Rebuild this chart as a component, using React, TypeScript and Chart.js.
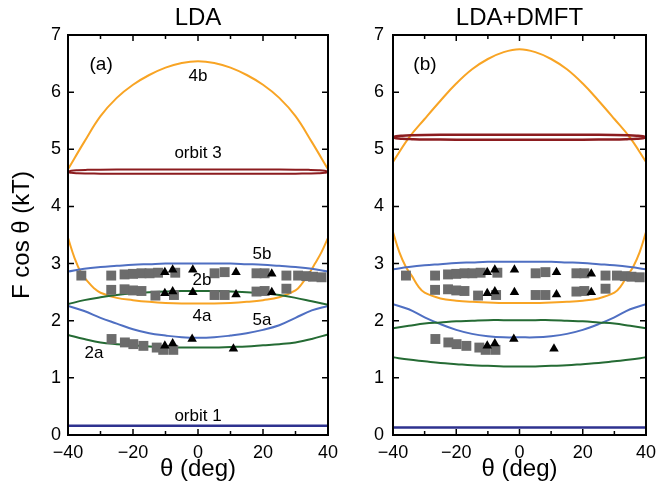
import { useEffect, useRef } from 'react';
import { Chart, registerables } from 'chart.js';

Chart.register(...registerables);

const FONT = '"Liberation Sans", Arial, Helvetica, sans-serif';

// Angle grids (deg)
const THETA = [-40, -35, -30, -25, -20, -15, -10, -5, 0, 5, 10, 15, 20, 25, 30, 35, 40];
const THETA_EDGE = [-40, -38, -36, -34, -32, -30, -25, -20, -15, -10, -5, 0, 5, 10, 15, 20, 25, 30, 32, 34, 36, 38, 40];
const THETA_ELL = [-40, -39, -37, -34, -30, -20, -10, 0, 10, 20, 30, 34, 37, 39, 40];
const THETA_FLAT = [-40, 40];

const X_MAJOR = [-40, -20, 0, 20, 40];
const X_MINOR = [-30, -10, 10, 30];
const Y_TICKS = [0, 1, 2, 3, 4, 5, 6, 7];

// LDA orbits (kT)
const lda4b = [4.65, 5.13, 5.58, 5.9, 6.13, 6.3, 6.43, 6.51, 6.54, 6.51, 6.43, 6.3, 6.13, 5.9, 5.58, 5.13, 4.65];
const lda4a = [3.45, 3.1, 2.84, 2.69, 2.57, 2.49, 2.4, 2.36, 2.33, 2.31, 2.3, 2.3, 2.3, 2.31, 2.33, 2.36, 2.41, 2.53, 2.65, 2.81, 3.0, 3.2, 3.45];
const lda5b = [2.86, 2.91, 2.94, 2.96, 2.98, 2.99, 3.0, 3.0, 3.0, 3.0, 3.0, 2.99, 2.98, 2.96, 2.94, 2.91, 2.86];
const lda5a = [2.26, 2.17, 2.05, 1.95, 1.85, 1.78, 1.74, 1.71, 1.7, 1.71, 1.74, 1.78, 1.84, 1.92, 2.05, 2.18, 2.26];
const lda2b = [2.29, 2.36, 2.41, 2.45, 2.48, 2.5, 2.51, 2.52, 2.52, 2.52, 2.51, 2.5, 2.48, 2.45, 2.4, 2.34, 2.28];
const lda2a = [1.75, 1.68, 1.62, 1.59, 1.57, 1.55, 1.54, 1.53, 1.53, 1.53, 1.54, 1.55, 1.57, 1.59, 1.62, 1.68, 1.76];
const lda3Upper = [4.605, 4.625, 4.635, 4.64, 4.643, 4.645, 4.645, 4.645, 4.645, 4.645, 4.643, 4.64, 4.635, 4.625, 4.605];
const lda3Lower = [4.605, 4.588, 4.58, 4.576, 4.573, 4.571, 4.57, 4.57, 4.57, 4.571, 4.573, 4.576, 4.58, 4.588, 4.605];
const lda1 = [0.16, 0.16];

// LDA+DMFT orbits (kT)
const dmft4b = [4.78, 5.2, 5.53, 5.85, 6.15, 6.4, 6.58, 6.7, 6.75, 6.7, 6.58, 6.4, 6.15, 5.85, 5.53, 5.2, 4.78];
const dmft4a = [3.55, 3.2, 2.95, 2.78, 2.6, 2.49, 2.39, 2.35, 2.33, 2.32, 2.31, 2.31, 2.31, 2.32, 2.33, 2.35, 2.39, 2.49, 2.6, 2.78, 2.95, 3.2, 3.55];
const dmft5b = [2.9, 2.94, 2.97, 2.99, 3.01, 3.02, 3.03, 3.03, 3.03, 3.03, 3.03, 3.02, 3.01, 2.99, 2.97, 2.94, 2.9];
const dmft5a = [2.29, 2.2, 2.06, 1.94, 1.84, 1.77, 1.73, 1.71, 1.71, 1.71, 1.73, 1.77, 1.84, 1.94, 2.06, 2.2, 2.29];
const dmft2b = [1.87, 1.91, 1.95, 1.97, 1.99, 2.0, 2.01, 2.01, 2.01, 2.01, 2.01, 2.0, 1.99, 1.97, 1.95, 1.91, 1.87];
const dmft2a = [1.36, 1.32, 1.29, 1.26, 1.24, 1.22, 1.21, 1.2, 1.2, 1.2, 1.21, 1.22, 1.24, 1.26, 1.29, 1.32, 1.36];
const dmft3Upper = [5.21, 5.228, 5.238, 5.245, 5.25, 5.254, 5.255, 5.255, 5.255, 5.254, 5.25, 5.245, 5.238, 5.228, 5.21];
const dmft3Lower = [5.21, 5.192, 5.183, 5.177, 5.172, 5.168, 5.166, 5.165, 5.166, 5.168, 5.172, 5.177, 5.183, 5.192, 5.21];
const dmft1 = [0.13, 0.13];

// Measured frequencies: squares
const sqTheta = [-35.9, -26.7, -22.6, -20.0, -17.4, -14.9, -12.3, -7.0, 5.1, 8.2, 18.0, 20.5, 27.2, 30.8, 33.3, 35.4, 38.0,
  -26.7, -22.6, -20.0, -17.4, -13.1, -7.4, 5.1, 8.2, 18.0, 20.5, 27.2,
  -26.6, -22.5, -19.9, -16.8, -12.7, -10.7, -7.6];
const sqValue = [2.79, 2.79, 2.81, 2.82, 2.83, 2.83, 2.84, 2.84, 2.83, 2.85, 2.83, 2.83, 2.79, 2.79, 2.78, 2.77, 2.76,
  2.54, 2.55, 2.53, 2.52, 2.44, 2.45, 2.45, 2.45, 2.51, 2.52, 2.56,
  1.68, 1.62, 1.59, 1.56, 1.53, 1.49, 1.49];

// Measured frequencies: triangles
const triTheta = [-10.2, -7.8, -1.6, 11.7, 22.7, -10.2, -7.8, -1.6, 11.7, 22.7, -10.2, -7.8, -1.8, 10.9];
const triValue = [2.85, 2.89, 2.89, 2.85, 2.82, 2.48, 2.51, 2.5, 2.46, 2.5, 1.56, 1.6, 1.68, 1.51];

const ORANGE = '#F8A424';
const BLUE = '#4F6FC2';
const GREEN = '#256B34';
const DARK_RED = '#8C1C1F';
const NAVY = '#2E328F';
const GREY = '#6C6C6C';

type Note = { text: string; x: number; y: number; size?: number };

const pts = (xs: number[], ys: number[]) => xs.map((x, i) => ({ x, y: ys[i] }));

const curve = (xs: number[], ys: number[], color: string, width = 2) => ({
  type: 'scatter' as const,
  data: pts(xs, ys),
  showLine: true,
  borderColor: color,
  backgroundColor: color,
  borderWidth: width,
  pointRadius: 0,
  tension: 0.4,
});

const markerSets = () => [
  {
    type: 'scatter' as const,
    data: pts(triTheta, triValue),
    pointStyle: 'triangle' as const,
    pointRadius: 5.5,
    backgroundColor: '#000',
    borderColor: '#000',
    borderWidth: 0,
  },
  {
    type: 'scatter' as const,
    data: pts(sqTheta, sqValue),
    pointStyle: 'rect' as const,
    pointRadius: 7,
    backgroundColor: GREY,
    borderColor: GREY,
    borderWidth: 0,
  },
];

const framePlugin = {
  id: 'frame',
  afterDraw(chart: any, _args: any, opts: any) {
    const { ctx, chartArea: a, scales } = chart;
    const xs = scales.x;
    const ys = scales.y;
    ctx.save();
    ctx.strokeStyle = '#000';
    ctx.lineWidth = 2;
    ctx.strokeRect(a.left, a.top, a.right - a.left, a.bottom - a.top);
    ctx.lineWidth = 1.5;
    ctx.beginPath();
    const tick = (v: number, len: number) => {
      const px = xs.getPixelForValue(v);
      ctx.moveTo(px, a.bottom);
      ctx.lineTo(px, a.bottom - len);
      ctx.moveTo(px, a.top);
      ctx.lineTo(px, a.top + len);
    };
    X_MAJOR.forEach((v) => tick(v, 6));
    X_MINOR.forEach((v) => tick(v, 4));
    Y_TICKS.forEach((v) => {
      const py = ys.getPixelForValue(v);
      ctx.moveTo(a.left, py);
      ctx.lineTo(a.left + 6, py);
      ctx.moveTo(a.right, py);
      ctx.lineTo(a.right - 6, py);
    });
    ctx.stroke();

    ctx.fillStyle = '#000';
    const cx = (a.left + a.right) / 2;
    // panel title
    ctx.font = `24px ${FONT}`;
    ctx.textAlign = 'center';
    ctx.textBaseline = 'alphabetic';
    ctx.fillText(opts.title, cx, 25);
    // x-axis title
    ctx.font = `24px ${FONT}`;
    ctx.textBaseline = 'middle';
    ctx.fillText('\u03b8 (deg)', cx, 469);
    // y-axis title
    if (opts.yTitle) {
      ctx.save();
      ctx.translate(22, (a.top + a.bottom) / 2);
      ctx.rotate(-Math.PI / 2);
      ctx.font = `24px ${FONT}`;
      ctx.fillText(opts.yTitle, 0, 0);
      ctx.restore();
    }
    // orbit labels
    (opts.notes as Note[]).forEach((n) => {
      ctx.font = `${n.size ?? 17}px ${FONT}`;
      ctx.fillText(n.text, xs.getPixelForValue(n.x), ys.getPixelForValue(n.y));
    });
    ctx.restore();
  },
};

type PanelProps = {
  left: number;
  width: number;
  axisWidth: number;
  padRight: number;
  tickPad: number;
  title: string;
  yTitle?: string;
  notes: Note[];
  datasets: any[];
};

function Panel({ left, width, axisWidth, padRight, tickPad, title, yTitle, notes, datasets }: PanelProps) {
  const ref = useRef<HTMLCanvasElement>(null);
  useEffect(() => {
    if (!ref.current) return;
    const chart = new Chart(ref.current, {
      type: 'scatter',
      data: { datasets },
      options: {
        responsive: false,
        animation: false,
        devicePixelRatio: 1,
        layout: { padding: { top: 35, right: padRight, bottom: 0, left: 0 } },
        plugins: {
          legend: { display: false },
          tooltip: { enabled: false },
          frame: { title, yTitle, notes },
        } as any,
        scales: {
          x: {
            type: 'linear',
            min: -40,
            max: 40,
            grid: { display: false, drawTicks: false },
            border: { display: false },
            ticks: {
              stepSize: 20,
              autoSkip: false,
              maxRotation: 0,
              padding: 7,
              color: '#000',
              font: { family: FONT, size: 18 },
              callback: (v: any) => String(v).replace('-', '\u2212'),
            },
            afterFit: (s: any) => {
              s.height = 52;
              s.paddingLeft = 0;
              s.paddingRight = 0;
            },
          },
          y: {
            type: 'linear',
            min: 0,
            max: 7,
            grid: { display: false, drawTicks: false },
            border: { display: false },
            ticks: {
              stepSize: 1,
              autoSkip: false,
              padding: tickPad,
              color: '#000',
              font: { family: FONT, size: 18 },
            },
            afterFit: (s: any) => {
              s.width = axisWidth;
              s.paddingTop = 0;
              s.paddingBottom = 0;
            },
          },
        },
      },
      plugins: [framePlugin],
    });
    return () => chart.destroy();
  }, []);
  return (
    <div style={{ position: 'absolute', left, top: 0, width, height: 487 }}>
      <canvas ref={ref} width={width} height={487} style={{ display: 'block' }} />
    </div>
  );
}

const ldaSets = [
  ...markerSets(),
  curve(THETA_FLAT, lda1, NAVY, 2.5),
  curve(THETA_ELL, lda3Upper, DARK_RED, 2),
  curve(THETA_ELL, lda3Lower, DARK_RED, 2),
  curve(THETA, lda2a, GREEN),
  curve(THETA, lda2b, GREEN),
  curve(THETA, lda5a, BLUE),
  curve(THETA, lda5b, BLUE),
  curve(THETA_EDGE, lda4a, ORANGE),
  curve(THETA, lda4b, ORANGE),
];

const dmftSets = [
  ...markerSets(),
  curve(THETA_FLAT, dmft1, NAVY, 2.5),
  curve(THETA_ELL, dmft3Upper, DARK_RED, 2.5),
  curve(THETA_ELL, dmft3Lower, DARK_RED, 2.5),
  curve(THETA, dmft2a, GREEN),
  curve(THETA, dmft2b, GREEN),
  curve(THETA, dmft5a, BLUE),
  curve(THETA, dmft5b, BLUE),
  curve(THETA_EDGE, dmft4a, ORANGE),
  curve(THETA, dmft4b, ORANGE),
];

const ldaNotes: Note[] = [
  { text: '(a)', x: -29.8, y: 6.48, size: 19 },
  { text: '4b', x: 0, y: 6.28 },
  { text: 'orbit 3', x: 0, y: 4.93 },
  { text: '5b', x: 19.7, y: 3.17 },
  { text: '2b', x: 1.2, y: 2.7 },
  { text: '4a', x: 1.2, y: 2.08 },
  { text: '5a', x: 19.7, y: 2.0 },
  { text: '2a', x: -32, y: 1.43 },
  { text: 'orbit 1', x: 0, y: 0.33 },
];

const dmftNotes: Note[] = [{ text: '(b)', x: -29.9, y: 6.48, size: 19 }];

const Y_TITLE = 'F cos \u03b8 (kT)';

export default function App() {
  return (
    <div style={{ position: 'absolute', left: 0, top: 0, width: 660, height: 487, background: '#fff' }}>
      <Panel left={0} width={360} axisWidth={68} padRight={32} tickPad={7} title="LDA" yTitle={Y_TITLE} notes={ldaNotes} datasets={ldaSets} />
      <Panel left={330} width={330} axisWidth={63} padRight={14} tickPad={9} title="LDA+DMFT" notes={dmftNotes} datasets={dmftSets} />
    </div>
  );
}
